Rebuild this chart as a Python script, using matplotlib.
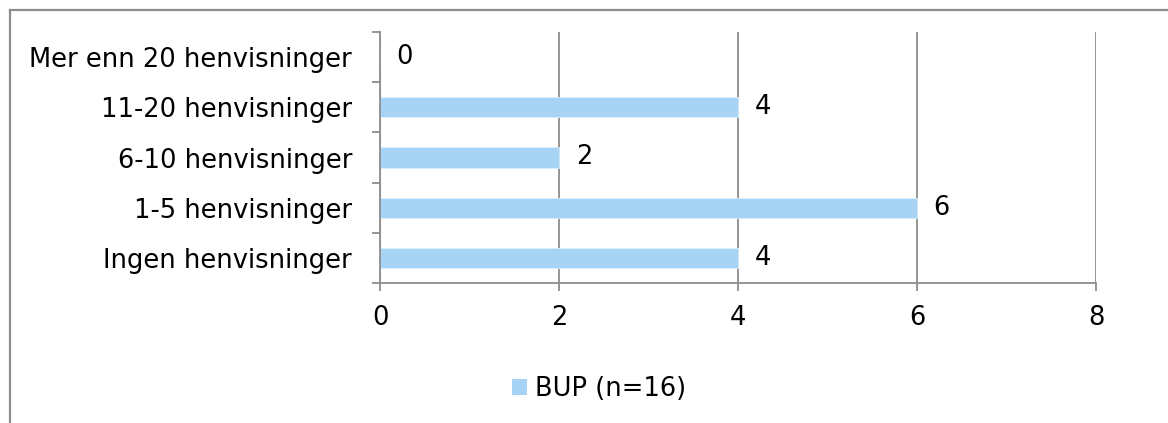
import matplotlib
matplotlib.use("Agg")
import matplotlib.pyplot as plt
from matplotlib.lines import Line2D
from matplotlib.patches import Patch
import numpy as np

# Antall henvisninger, BUP
categories = ["Ingen henvisninger", "1-5 henvisninger", "6-10 henvisninger",
              "11-20 henvisninger", "Mer enn 20 henvisninger"]
values = [4, 6, 2, 4, 0]
series_name = "BUP (n=16)"
x_ticks = [0, 2, 4, 6, 8]

bar_color = "#A7D3F5"
line_color = "#8C8C8C"
font_size = 18.5

plt.rcParams["font.family"] = ["DejaVu Sans"]

W, H = 1168, 423
fig = plt.figure(figsize=(W / 100, H / 100), dpi=100)
ax = fig.add_axes([380 / W, 1 - 283 / H, (1096 - 380) / W, (283 - 32) / H])

y = np.arange(len(categories))
ax.barh(y, values, height=0.4, color=bar_color, edgecolor="#DDEEFB",
        linewidth=0.6, zorder=3)

for yi, v in zip(y, values):
    ax.annotate(str(v), (v, yi), xytext=(12, 0), textcoords="offset points",
                ha="left", va="center", fontsize=font_size, color="black")

ax.set_xlim(0, 8)
ax.set_ylim(-0.5, len(categories) - 0.5)
ax.set_xticks(x_ticks)
ax.set_xticklabels([str(t) for t in x_ticks], fontsize=font_size)
ax.set_yticks(y)
ax.set_yticklabels(categories, fontsize=font_size)
ax.set_yticks(np.arange(-0.5, len(categories)), minor=True)

ax.tick_params(axis="y", which="major", length=0, pad=20)
ax.tick_params(axis="y", which="minor", length=6, width=1.3, color=line_color)
ax.tick_params(axis="x", which="major", length=6, width=1.3, color=line_color, pad=10)

ax.grid(axis="x", color=line_color, linewidth=1.3, zorder=0)
ax.set_axisbelow(True)
for side in ("top", "right"):
    ax.spines[side].set_visible(False)
for side in ("left", "bottom"):
    ax.spines[side].set_color(line_color)
    ax.spines[side].set_linewidth(1.3)
    ax.spines[side].set_zorder(4)

# Chart area frame (left and top edges)
fig.add_artist(Line2D([10 / W, 10 / W], [0, 1 - 10 / H], transform=fig.transFigure,
                      color=line_color, linewidth=1.6))
fig.add_artist(Line2D([10 / W, 1], [1 - 10 / H, 1 - 10 / H], transform=fig.transFigure,
                      color=line_color, linewidth=1.6))

handle = Patch(facecolor=bar_color, edgecolor="none")
fig.legend([handle], [series_name], loc="center", bbox_to_anchor=(599 / W, 1 - 389 / H),
           frameon=False, fontsize=font_size, handlelength=0.6, handleheight=0.6,
           handletextpad=0.3, borderpad=0)

fig.savefig("out.png", dpi=100, facecolor="white")
